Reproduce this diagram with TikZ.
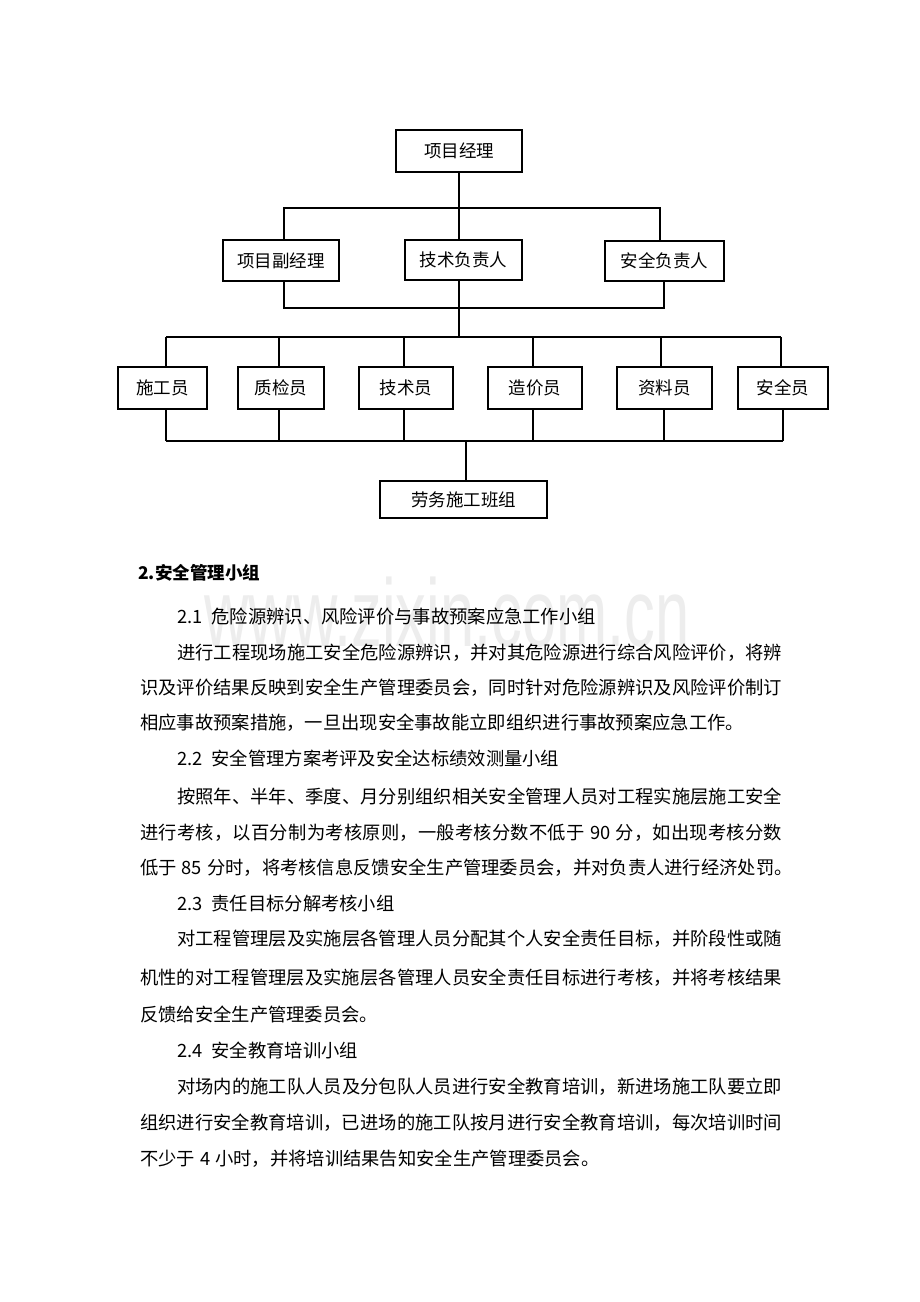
\documentclass[tikz,border=0pt]{standalone}
\usepackage{fontspec}
\newfontfamily\cjk{Noto Sans CJK SC}
\newfontfamily\wmfont{Liberation Sans}
\ExplSyntaxOn
\NewDocumentCommand\fullline{O{642pt}m}{\hbox to #1{\tl_map_inline:nn {#2}{##1\hfil}\unskip}}
\ExplSyntaxOff
\newcommand\numsp[1]{\hspace*{5pt}#1\hspace*{5pt}}
\begin{document}
\begin{tikzpicture}[x=1pt,y=-1pt,
  box/.style={draw,line width=1.1pt,inner sep=0pt,font=\cjk\fontsize{17.5}{20}\selectfont},
  conn/.style={line width=1.1pt},
  body/.style={anchor=west,inner sep=0pt,font=\cjk\fontsize{18.3}{22}\selectfont}]
\useasboundingbox[fill=white] (0,0) rectangle (920,1302);
% watermark
\node[inner sep=0pt,text=black!7,font=\wmfont\fontsize{96}{100}\selectfont,xscale=0.64] (wm) at (447,612) {www.zixin.com.cn};
% boxes
\node[box,minimum width=126pt,minimum height=42pt] (pm) at (459,151) {项目经理};
\node[box,minimum width=116pt,minimum height=41pt] (dpm) at (281,260.5) {项目副经理};
\node[box,minimum width=117pt,minimum height=40pt] (tech) at (463.5,260) {技术负责人};
\node[box,minimum width=119pt,minimum height=40pt] (sfr) at (664.5,261) {安全负责人};
\node[box,minimum width=89pt,minimum height=42pt] (sgy) at (162.5,388) {施工员};
\node[box,minimum width=86pt,minimum height=42pt] (zjy) at (281,388) {质检员};
\node[box,minimum width=94pt,minimum height=42pt] (jsy) at (406,388) {技术员};
\node[box,minimum width=94pt,minimum height=42pt] (zj) at (535,388) {造价员};
\node[box,minimum width=95pt,minimum height=42pt] (zly) at (664.5,388) {资料员};
\node[box,minimum width=90pt,minimum height=42pt] (aqy) at (783,388) {安全员};
\node[box,minimum width=167pt,minimum height=37pt] (lw) at (463.5,499.5) {劳务施工班组};
% connector coordinates
\coordinate (c) at (459,208);
\coordinate (b1L) at (284,208);
\coordinate (b1R) at (660,208);
\coordinate (b2L) at (284,308);
\coordinate (b2R) at (664,308);
\coordinate (b3) at (459,337);
\coordinate (t1) at (166,337);
\coordinate (t2) at (279,337);
\coordinate (t3) at (404,337);
\coordinate (t4) at (533,337);
\coordinate (t5) at (661,337);
\coordinate (t6) at (781,337);
\coordinate (u1) at (166,441);
\coordinate (u2) at (279,441);
\coordinate (u3) at (404,441);
\coordinate (u4) at (533,441);
\coordinate (u5) at (664,441);
\coordinate (u6) at (783,441);
\coordinate (u7) at (466,441);
% connectors
\draw[conn] (pm.south) -- (c |- tech.north);
\draw[conn] (b1L |- dpm.north) -- (b1L) -- (b1R) -- (b1R |- sfr.north);
\draw[conn] (b2L |- dpm.south) -- (b2L) -- (b2R) -- (b2R |- sfr.south);
\draw[conn] (c |- tech.south) -- (b3);
\draw[conn] (t1) -- (t6);
\draw[conn] (t1) -- (t1 |- sgy.north);
\draw[conn] (t2) -- (t2 |- zjy.north);
\draw[conn] (t3) -- (t3 |- jsy.north);
\draw[conn] (t4) -- (t4 |- zj.north);
\draw[conn] (t5) -- (t5 |- zly.north);
\draw[conn] (t6) -- (t6 |- aqy.north);
\draw[conn] (u1) -- (u6);
\draw[conn] (u1 |- sgy.south) -- (u1);
\draw[conn] (u2 |- zjy.south) -- (u2);
\draw[conn] (u3 |- jsy.south) -- (u3);
\draw[conn] (u4 |- zj.south) -- (u4);
\draw[conn] (u5 |- zly.south) -- (u5);
\draw[conn] (u6 |- aqy.south) -- (u6);
\draw[conn] (u7) -- (u7 |- lw.north);
% text
\node[anchor=west,inner sep=0pt,font=\cjk\bfseries\fontsize{17.5}{20}\selectfont] (h) at (138,573) {2.安全管理小组};
\node[body] (l1) at (177,617) {2.1\hspace*{9pt}危险源辨识、风险评价与事故预案应急工作小组};
\node[body] (l2) at (177,653) {\fullline[605pt]{进行工程现场施工安全危险源辨识，并对其危险源进行综合风险评价，将辨}};
\node[body] (l3) at (140,688) {\fullline{识及评价结果反映到安全生产管理委员会，同时针对危险源辨识及风险评价制订}};
\node[body] (l4) at (140,723) {相应事故预案措施，一旦出现安全事故能立即组织进行事故预案应急工作。};
\node[body] (l5) at (177,758) {2.2\hspace*{9pt}安全管理方案考评及安全达标绩效测量小组};
\node[body] (l6) at (177,797) {\fullline[605pt]{按照年、半年、季度、月分别组织相关安全管理人员对工程实施层施工安全}};
\node[body] (l7) at (140,833) {\fullline{进行考核，以百分制为考核原则，一般考核分数不低于{\numsp{90}}分，如出现考核分数}};
\node[body] (l8) at (140,868) {\fullline{低于{\numsp{85}}分时，将考核信息反馈安全生产管理委员会，并对负责人进行经济处罚。}};
\node[body] (l9) at (177,904) {2.3\hspace*{9pt}责任目标分解考核小组};
\node[body] (l10) at (177,939) {\fullline[605pt]{对工程管理层及实施层各管理人员分配其个人安全责任目标，并阶段性或随}};
\node[body] (l11) at (140,978) {\fullline{机性的对工程管理层及实施层各管理人员安全责任目标进行考核，并将考核结果}};
\node[body] (l12) at (140,1014) {反馈给安全生产管理委员会。};
\node[body] (l13) at (177,1050) {2.4\hspace*{9pt}安全教育培训小组};
\node[body] (l14) at (177,1087) {\fullline[605pt]{对场内的施工队人员及分包队人员进行安全教育培训，新进场施工队要立即}};
\node[body] (l15) at (140,1123) {\fullline{组织进行安全教育培训，已进场的施工队按月进行安全教育培训，每次培训时间}};
\node[body] (l16) at (140,1159) {不少于\numsp{4}小时，并将培训结果告知安全生产管理委员会。};
\end{tikzpicture}
\end{document}
